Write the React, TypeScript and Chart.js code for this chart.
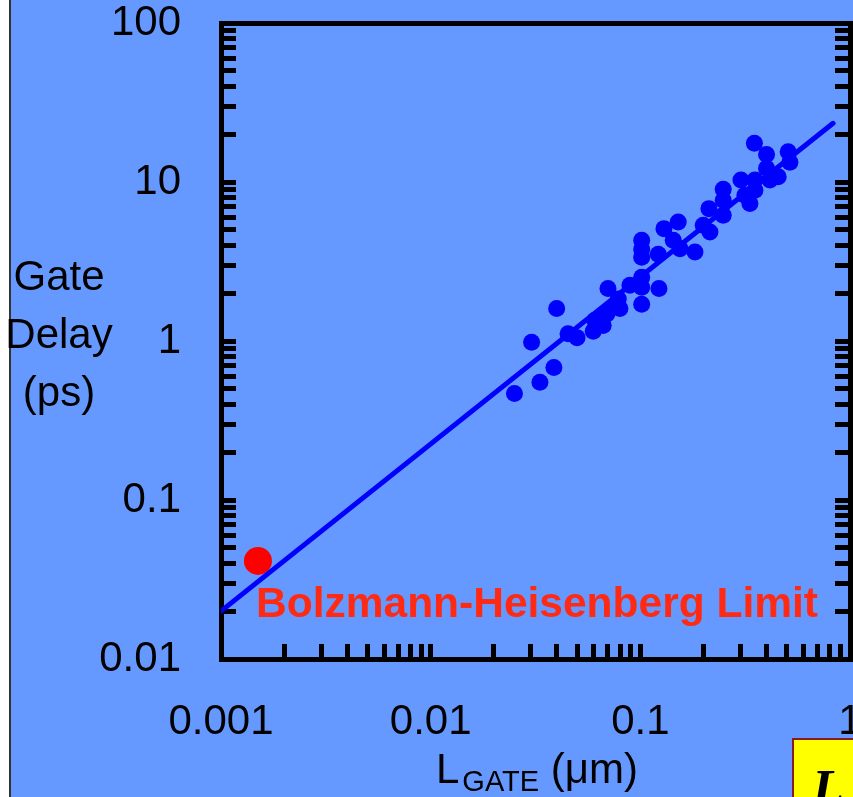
import React, { useEffect, useRef } from 'react';
import { Chart, registerables } from 'chart.js';

Chart.register(...registerables);

const W = 853;
const H = 797;
const FONT = "'Liberation Sans', Arial, Helvetica, sans-serif";

// Measured devices: gate length (um) vs gate delay (ps)
const L_GATE_UM = [
  0.0251, 0.0332, 0.0387, 0.0303, 0.0399, 0.0452, 0.0499, 0.0596, 0.0607, 0.0642,
  0.0665, 0.0693, 0.0743, 0.0785, 0.0799, 0.0701, 0.0892, 0.1015, 0.1015, 0.1015,
  0.1227, 0.1015, 0.1015, 0.1015, 0.1218, 0.1296, 0.1516, 0.1435, 0.1545, 0.1822,
  0.1995, 0.2148, 0.2124, 0.2485, 0.2485, 0.2485, 0.3019, 0.3332, 0.3153, 0.352,
  0.352, 0.35, 0.4, 0.4, 0.4546, 0.507, 0.517, 0.415,
];
const GATE_DELAY_PS = [
  0.467, 0.55, 0.681, 0.983, 1.6, 1.11, 1.05, 1.15, 1.35, 1.39,
  1.25, 1.48, 1.63, 1.84, 1.6, 2.14, 2.24, 2.52, 2.18, 1.7,
  2.14, 4.3, 3.77, 3.36, 3.51, 5.09, 5.6, 4.3, 3.81, 3.63,
  5.34, 4.85, 6.8, 9.0, 7.67, 6.17, 10.3, 7.32, 8.25, 10.3,
  8.87, 17.5, 14.9, 12.2, 10.8, 15.5, 13.3, 10.3,
];

// Bolzmann-Heisenberg limit point
const LIMIT_L_UM = [0.0015];
const LIMIT_DELAY_PS = [0.0414];

// Trend line end points
const FIT_L_UM = [0.001, 0.83];
const FIT_DELAY_PS = [0.02, 23.4];

// Axes
const X_MIN = 0.001;
const X_MAX = 1;
const Y_MIN = 0.01;
const Y_MAX = 100;
const X_DECADES = [0.001, 0.01, 0.1];
const Y_DECADES = [0.01, 0.1, 1, 10];
const X_TICK_LABELS = ['0.001', '0.01', '0.1', '1'];
const Y_TICK_LABELS = ['0.01', '0.1', '1', '10', '100'];
const MULTIPLIERS = [1, 2, 3, 4, 5, 6, 7, 8, 9];

const Y_TITLE_LINES = ['Gate', 'Delay', '(ps)'];
const ANNOTATION = 'Bolzmann-Heisenberg Limit';

const logTicks = (decades: number[], top: number) => {
  const out: number[] = [];
  decades.forEach((d) => MULTIPLIERS.forEach((m) => out.push(parseFloat((d * m).toPrecision(4)))));
  out.push(top);
  return out;
};
const X_TICKS = logTicks(X_DECADES, X_MAX);
const Y_TICKS = logTicks(Y_DECADES, Y_MAX);

const fmt = (v: number) => String(parseFloat(Number(v).toPrecision(6)));

const gridOpts = {
  display: true,
  drawOnChartArea: false,
  drawTicks: true,
  tickLength: -15,
  tickWidth: 5,
  tickColor: '#000000',
  lineWidth: 5,
  color: '#000000',
};
const borderOpts = { display: true, width: 5, color: '#000000' };

const bgPlugin = {
  id: 'slideBg',
  beforeDraw(chart: any) {
    const { ctx } = chart;
    ctx.save();
    ctx.fillStyle = '#FFFFFF';
    ctx.fillRect(0, 0, W, H);
    ctx.fillStyle = '#6699FF';
    ctx.fillRect(11, 0, W - 11, H);
    ctx.fillStyle = '#333333';
    ctx.fillRect(9, 0, 2, H);
    ctx.restore();
  },
};

const overlayPlugin = {
  id: 'overlayText',
  afterDraw(chart: any) {
    const { ctx, chartArea } = chart;
    ctx.save();
    ctx.fillStyle = '#000000';
    // Y-axis title (horizontal, three lines)
    ctx.font = `42px ${FONT}`;
    ctx.textAlign = 'center';
    ctx.textBaseline = 'alphabetic';
    Y_TITLE_LINES.forEach((t, i) => ctx.fillText(t, 59, 290 + i * 58));

    // X-axis title: L with subscript GATE, then (µm)
    ctx.textAlign = 'left';
    ctx.font = `42px ${FONT}`;
    let x = 436;
    ctx.fillText('L', x, 783);
    x += ctx.measureText('L').width + 3;
    ctx.font = `29px ${FONT}`;
    ctx.fillText('GATE', x, 791);
    x += ctx.measureText('GATE').width;
    ctx.font = `42px ${FONT}`;
    ctx.fillText(' (\u03BCm)', x, 783);

    // Annotation
    ctx.fillStyle = '#FF2A14';
    ctx.font = `bold 42.5px ${FONT}`;
    ctx.fillText(ANNOTATION, chartArea.left + 35, 617);

    // Yellow box at bottom-right (cropped)
    ctx.fillStyle = '#FFFF00';
    ctx.fillRect(793, 739, 80, 80);
    ctx.strokeStyle = '#8B1A1A';
    ctx.lineWidth = 2;
    ctx.strokeRect(793, 739, 80, 80);
    ctx.fillStyle = '#000000';
    ctx.font = "bold italic 52px 'Liberation Serif', 'Times New Roman', serif";
    ctx.fillText('L', 812, 806);
    ctx.restore();
  },
};

export default function App() {
  const ref = useRef<HTMLCanvasElement>(null);

  useEffect(() => {
    document.body.style.margin = '0';
    document.body.style.overflow = 'hidden';
    const canvas = ref.current;
    if (!canvas) return;

    const pts = L_GATE_UM.map((l, i) => ({ x: l, y: GATE_DELAY_PS[i] }));
    const limit = LIMIT_L_UM.map((l, i) => ({ x: l, y: LIMIT_DELAY_PS[i] }));
    const fit = FIT_L_UM.map((l, i) => ({ x: l, y: FIT_DELAY_PS[i] }));

    const chart = new Chart(canvas, {
      type: 'scatter',
      data: {
        datasets: [
          {
            label: 'Devices',
            data: pts,
            pointRadius: 8.5,
            pointHoverRadius: 8.5,
            pointBackgroundColor: '#0000FF',
            pointBorderWidth: 0,
            backgroundColor: '#0000FF',
          },
          {
            label: 'Trend',
            data: fit,
            showLine: true,
            borderColor: '#0000FF',
            borderWidth: 5,
            borderCapStyle: 'round',
            pointRadius: 0,
            pointHoverRadius: 0,
          },
          {
            label: 'Limit',
            data: limit,
            pointRadius: 14,
            pointHoverRadius: 14,
            pointBackgroundColor: '#FF0000',
            pointBorderWidth: 0,
            backgroundColor: '#FF0000',
          },
        ],
      } as any,
      options: {
        responsive: false,
        animation: false,
        devicePixelRatio: 1,
        layout: { padding: 0, autoPadding: false },
        plugins: {
          legend: { display: false },
          tooltip: { enabled: false },
        },
        scales: {
          x: {
            type: 'logarithmic',
            position: 'bottom',
            min: X_MIN,
            max: X_MAX,
            grid: gridOpts,
            border: borderOpts,
            afterBuildTicks: (s: any) => {
              s.ticks = X_TICKS.map((v) => ({ value: v }));
            },
            afterFit: (s: any) => {
              s.height = H - 659;
              s.paddingRight = 0;
              s.paddingLeft = 0;
            },
            ticks: {
              autoSkip: false,
              maxRotation: 0,
              minRotation: 0,
              padding: 53,
              color: '#000000',
              font: { family: FONT, size: 42 },
              callback: (v: any) => {
                const s = fmt(v);
                return X_TICK_LABELS.includes(s) ? s : '';
              },
            },
          },
          x2: {
            type: 'logarithmic',
            position: 'top',
            min: X_MIN,
            max: X_MAX,
            grid: { display: false },
            border: borderOpts,
            ticks: { display: false },
            afterFit: (s: any) => {
              s.height = 23;
              s.paddingLeft = 0;
              s.paddingRight = 0;
            },
          },
          y: {
            type: 'logarithmic',
            position: 'left',
            min: Y_MIN,
            max: Y_MAX,
            grid: gridOpts,
            border: borderOpts,
            afterBuildTicks: (s: any) => {
              s.ticks = Y_TICKS.map((v) => ({ value: v }));
            },
            afterFit: (s: any) => {
              s.width = 221;
              s.paddingTop = 0;
              s.paddingBottom = 0;
            },
            ticks: {
              autoSkip: false,
              padding: 55,
              color: '#000000',
              font: { family: FONT, size: 42 },
              callback: (v: any) => {
                const s = fmt(v);
                return Y_TICK_LABELS.includes(s) ? s : '';
              },
            },
          },
          y2: {
            type: 'logarithmic',
            position: 'right',
            min: Y_MIN,
            max: Y_MAX,
            grid: gridOpts,
            border: borderOpts,
            afterBuildTicks: (s: any) => {
              s.ticks = Y_TICKS.map((v) => ({ value: v }));
            },
            afterFit: (s: any) => {
              s.width = 3;
              s.paddingTop = 0;
              s.paddingBottom = 0;
            },
            ticks: { display: false },
          },
        },
      } as any,
      plugins: [bgPlugin, overlayPlugin],
    });

    return () => chart.destroy();
  }, []);

  return (
    <div style={{ width: W, height: H, position: 'relative', overflow: 'hidden' }}>
      <canvas ref={ref} width={W} height={H} style={{ display: 'block', width: W, height: H }} />
    </div>
  );
}
